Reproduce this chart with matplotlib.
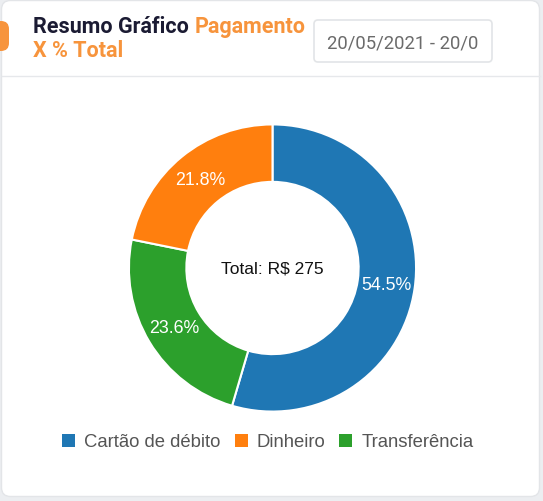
import numpy as np
import matplotlib.pyplot as plt
from matplotlib.patches import FancyBboxPatch, Rectangle, Patch

# dados do grafico
categorias = ['Cartão de débito', 'Dinheiro', 'Transferência']
valores = [150, 60, 65]          # R$ por forma de pagamento
cores = ['#1f77b4', '#ff7f0e', '#2ca02c']
ordem_desenho = [0, 2, 1]        # sentido horario a partir do topo
data_periodo = '20/05/2021 - 20/0'

W, H = 543, 502
fig = plt.figure(figsize=(W / 100, H / 100), dpi=100)
fig.patch.set_facecolor('#eceef1')

# camada de fundo em pixels (card, cabecalho, caixa de data)
bg = fig.add_axes([0, 0, 1, 1], zorder=0)
bg.set_xlim(0, W)
bg.set_ylim(H, 0)
bg.axis('off')

card = FancyBboxPatch((1.5, 1.5), 538, 496, boxstyle='round,pad=0,rounding_size=9',
                      fc='white', ec='#e3e5e8', lw=1)
bg.add_patch(card)
tab = FancyBboxPatch((-8, 22), 17, 30, boxstyle='round,pad=0,rounding_size=8',
                     fc='#f7943c', ec='none')
bg.add_patch(tab)
bg.plot([1.5, 539.5], [77, 77], color='#e6e8eb', lw=1)

caixa = FancyBboxPatch((314, 21), 178, 42, boxstyle='round,pad=0,rounding_size=4',
                       fc='white', ec='#e2e4e7', lw=1.2)
bg.add_patch(caixa)
bg.text(403, 43, data_periodo, ha='center', va='center', fontsize=13.3,
        family='Roboto', color='#6b6b6b')

t1 = bg.text(33, 33, 'Resumo Gráfico ', ha='left', va='baseline', fontsize=15.5,
             family='Roboto', weight='bold', color='#1b1b33')
fig.canvas.draw()
ext = t1.get_window_extent()
x2 = ext.x1 * W / fig.bbox.width
bg.text(x2, 33, 'Pagamento', ha='left', va='baseline', fontsize=15.5,
        family='Roboto', weight='bold', color='#f7943c')
bg.text(33, 57, 'X % Total', ha='left', va='baseline', fontsize=15.5,
        family='Roboto', weight='bold', color='#f7943c')

# rosca
cx, cy, r = 272.5, 269, 145
ax = fig.add_axes([(cx - r) / W, (H - cy - r) / H, 2 * r / W, 2 * r / H], zorder=1)
ax.patch.set_alpha(0)
vals = [valores[i] for i in ordem_desenho]
cols = [cores[i] for i in ordem_desenho]
wedges, textos, autotextos = ax.pie(
    vals, colors=cols, startangle=90, counterclock=False, radius=1,
    autopct='%1.1f%%', pctdistance=0.8,
    wedgeprops=dict(width=0.4, edgecolor='white', linewidth=1.5),
    textprops=dict(color='white', fontsize=12.8, family='Liberation Sans'))
ax.set_xlim(-1.01, 1.01)
ax.set_ylim(-1.01, 1.01)
ax.set_aspect('equal')
ax.text(0, 0, 'Total: R$ %d' % sum(valores), ha='center', va='center',
        fontsize=12.5, family='Liberation Sans', color='#111111')

# legenda
handles = [Patch(facecolor=c, edgecolor='none') for c in cores]
leg = fig.legend(handles, categorias, loc='center', ncol=3, frameon=False,
                 bbox_to_anchor=(268 / W, 1 - 443 / H),
                 prop=dict(family='Liberation Sans', size=13.3),
                 handlelength=0.7, handleheight=0.7, handletextpad=0.5,
                 columnspacing=0.75)
for t in leg.get_texts():
    t.set_color('#555555')

fig.savefig('out.png', dpi=100, facecolor=fig.get_facecolor())
